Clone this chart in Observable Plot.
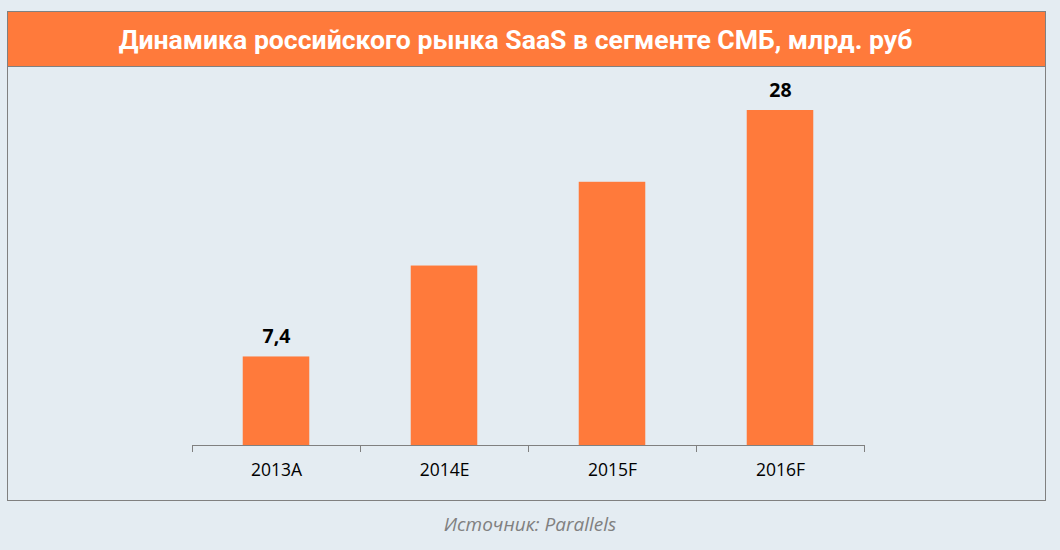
<!DOCTYPE html>
<html>
<head>
<meta charset="utf-8">
<script src="https://cdn.jsdelivr.net/npm/d3@7"></script>
<script src="https://cdn.jsdelivr.net/npm/@observablehq/plot@0.6"></script>
<style>
  html, body { margin: 0; padding: 0; background: #e4ecf2; }
  #wrap { position: relative; width: 1060px; height: 550px; background: #e4ecf2; overflow: hidden; }
  #chart { position: absolute; left: 0; top: 68px; }
  #box { position: absolute; left: 7px; top: 11px; width: 1037px; height: 488px; border: 1px solid #808080; pointer-events: none; }
  #title { position: absolute; left: 8px; top: 12px; width: 1037px; height: 55px; background: #ff7a3b;
           border-bottom: 1px solid #808080; color: #ffffff; font-family: Roboto, sans-serif; font-weight: bold;
           font-size: 26.6px; display: flex; align-items: center; justify-content: center; padding-right: 22px; box-sizing: border-box; }
  #caption { position: absolute; left: 0; width: 1060px; top: 511px; text-align: center; font-family: "Open Sans", sans-serif;
             font-style: italic; font-size: 19px; color: #808080; }
</style>
</head>
<body>
<div id="wrap">
  <div id="chart"></div>
  <div id="box"></div>
  <div id="title">Динамика российского рынка SaaS в сегменте СМБ, млрд. руб</div>
  <div id="caption">Источник: Parallels</div>
</div>
<script>
const categories = ["2013A", "2014E", "2015F", "2016F"];
const values = [7.4, 15, 22, 28];
const labels = ["7,4", null, null, "28"];

const data = categories.map((c, i) => ({category: c, value: values[i], label: labels[i]}));

const W = 1060, H = 430, mL = 192, mR = 196, mT = 42, mB = 53;
const bw = (W - mL - mR) / categories.length;

const chart = Plot.plot({
  width: W,
  height: H,
  marginLeft: mL,
  marginRight: mR,
  marginTop: mT,
  marginBottom: mB,
  style: {background: "transparent", fontFamily: "'Open Sans', sans-serif", fontSize: "17.5px", color: "#000"},
  x: {type: "band", domain: categories, padding: 0},
  y: {domain: [0, 28], axis: null},
  marks: [
    Plot.barY(data, {x: "category", y: "value", fill: "#ff7a3b", insetLeft: bw * 0.302, insetRight: bw * 0.302}),
    Plot.ruleY([0], {stroke: "#808080", strokeWidth: 1}),
    Plot.ruleX(data, {x: "category", y1: 0, y2: 0, insetBottom: -7, dx: -bw / 2, stroke: "#808080"}),
    Plot.ruleX(data.slice(-1), {x: "category", y1: 0, y2: 0, insetBottom: -7, dx: bw / 2, stroke: "#808080"}),
    Plot.axisX({tickSize: 0, tickPadding: 18, fill: "#000", fontSize: 17.5, label: null}),
    Plot.text(data.filter(d => d.label), {x: "category", y: "value", text: "label", dy: -20, fontWeight: "bold", fontSize: 19.5, fill: "#000", fontFamily: "'Open Sans', sans-serif"})
  ]
});
document.getElementById("chart").appendChild(chart);
</script>
</body>
</html>
